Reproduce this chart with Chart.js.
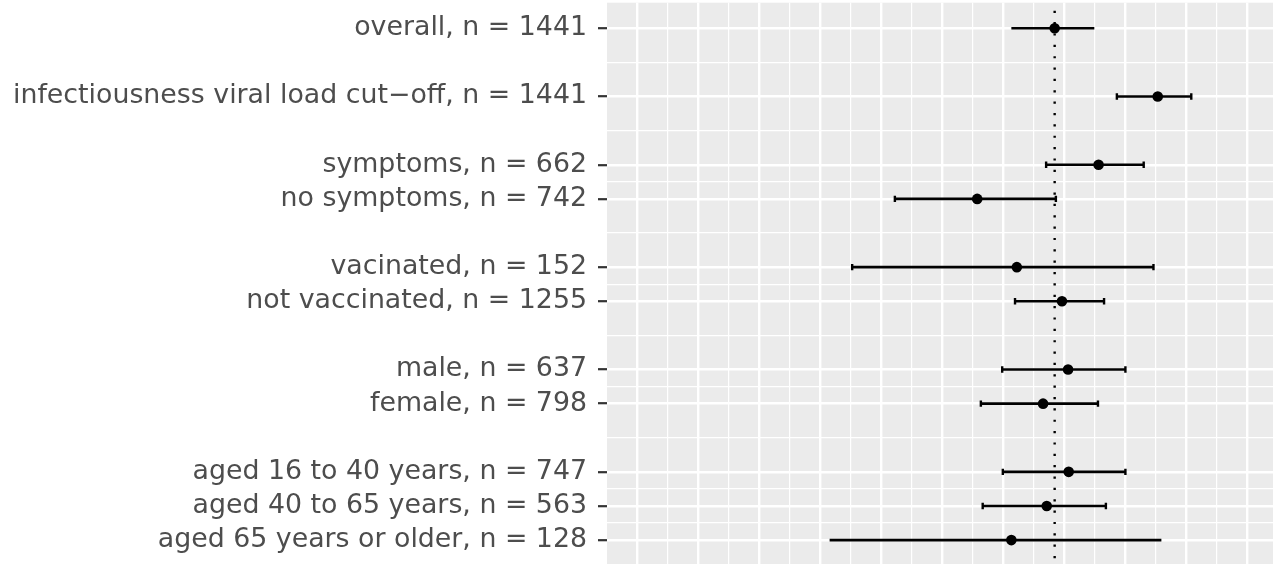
<!DOCTYPE html>
<html>
<head>
<meta charset="utf-8">
<script src="https://cdn.jsdelivr.net/npm/chart.js@4/dist/chart.umd.min.js"></script>
<style>
  html, body { margin: 0; padding: 0; background: #ffffff; }
  #wrap { width: 1273px; height: 564px; }
</style>
</head>
<body>
<div id="wrap"><canvas id="forest"></canvas></div>
<script>
// subgroup labels, top to bottom
var labels = [
    "overall, n = 1441",
    "infectiousness viral load cut\u2212off, n = 1441",
    "symptoms, n = 662",
    "no symptoms, n = 742",
    "vacinated, n = 152",
    "not vaccinated, n = 1255",
    "male, n = 637",
    "female, n = 798",
    "aged 16 to 40 years, n = 747",
    "aged 40 to 65 years, n = 563",
    "aged 65 years or older, n = 128"
];
// row position of each subgroup (gaps are the blank rows between groups)
var rows = [0, 2, 4, 5, 7, 8, 10, 11, 13, 14, 15];

// estimates and intervals (axis has no labels, units = major grid steps)
var estimate = [6.85, 8.54, 7.57, 5.58, 6.23, 6.97, 7.07, 6.66, 7.08, 6.72, 6.14];
var lower    = [6.14, 7.87, 6.71, 4.23, 3.53, 6.20, 5.99, 5.64, 6.00, 5.67, 3.16];
var upper    = [7.50, 9.09, 8.31, 6.87, 8.47, 7.66, 8.01, 7.56, 8.01, 7.69, 8.60];
var hasCaps  = [false, true, true, true, true, true, true, true, true, true, false];
var refValue = 6.85;

var xMajor = [0, 1, 2, 3, 4, 5, 6, 7, 8, 9, 10];

var yMin = -0.75, yMax = 15.70;
var xMin = -0.49, xMax = 10.43;

// minor lines sit halfway between neighbouring breaks
function withMinors(major) {
    var out = [];
    for (let i = 0; i < major.length; i++) {
        out.push(major[i]);
        if (i < major.length - 1) out.push((major[i] + major[i + 1]) / 2);
    }
    return out;
}

var datasets = [];

datasets.push({
    type: "line",
    data: [{ x: refValue, y: yMin }, { x: refValue, y: yMax }],
    borderColor: "#000000",
    borderWidth: 2.4,
    borderDash: [2.2, 9.16],
    borderDashOffset: 3.36,
    borderCapStyle: "butt",
    pointRadius: 0,
    order: 3,
});

for (let i = 0; i < rows.length; i++) {
    datasets.push({
        type: "line",
        data: [{ x: lower[i], y: rows[i] }, { x: upper[i], y: rows[i] }],
        borderColor: "#000000",
        borderWidth: 2.6,
        pointStyle: "line",
        pointRotation: 90,
        pointRadius: hasCaps[i] ? 3.2 : 0,
        pointBorderWidth: 2.4,
        pointBorderColor: "#000000",
        order: 2,
    });
}

datasets.push({
    type: "scatter",
    data: rows.map(function(r, i) { return { x: estimate[i], y: r }; }),
    backgroundColor: "#000000",
    borderWidth: 0,
    pointRadius: 5.3,
    order: 1,
});

var panelBackground = {
    id: "panelBackground",
    beforeDraw: function(chart) {
        var a = chart.chartArea;
        var c = chart.ctx;
        c.save();
        c.fillStyle = "#EBEBEB";
        c.fillRect(a.left, a.top, a.right - a.left, a.bottom - a.top);
        c.restore();
    }
};

function isMajorRow(v) {
    return rows.indexOf(v) !== -1;
}

const ctx = document.getElementById("forest").getContext("2d");
const myChart = new Chart(ctx, {
    data: { datasets: datasets },
    plugins: [panelBackground],
    options: {
        responsive: true,
        maintainAspectRatio: false,
        animation: false,
        layout: {
            autoPadding: false,
            padding: { top: 2.7, right: 0, bottom: 0, left: 0 },
        },
        plugins: {
            legend: { display: false },
            tooltip: { enabled: false },
        },
        scales: {
            x: {
                type: "linear",
                min: xMin,
                max: xMax,
                afterBuildTicks: function(scale) {
                    scale.ticks = withMinors(xMajor).map(function(v) { return { value: v }; });
                },
                afterFit: function(scale) {
                    scale.height = 0;
                    scale.paddingLeft = 0;
                    scale.paddingRight = 0;
                },
                ticks: { display: false, autoSkip: false },
                border: { display: false },
                grid: {
                    color: "#FFFFFF",
                    drawTicks: false,
                    lineWidth: function(c) {
                        return c.tick && c.tick.value % 1 === 0 ? 2.4 : 1.2;
                    },
                },
            },
            y: {
                type: "linear",
                reverse: true,
                min: yMin,
                max: yMax,
                afterBuildTicks: function(scale) {
                    scale.ticks = withMinors(rows).map(function(v) { return { value: v }; });
                },
                afterFit: function(scale) {
                    scale.width = 607;
                    scale.paddingTop = 0;
                    scale.paddingBottom = 0;
                },
                ticks: {
                    autoSkip: false,
                    padding: 11,
                    color: "#4D4D4D",
                    font: { family: "DejaVu Sans", size: 26.8 },
                    callback: function(value) {
                        var idx = rows.indexOf(value);
                        return idx === -1 ? "" : labels[idx];
                    },
                },
                border: { display: false },
                grid: {
                    color: "#FFFFFF",
                    tickLength: 9,
                    tickWidth: 2.2,
                    tickColor: function(c) {
                        return c.tick && isMajorRow(c.tick.value) ? "#333333" : "rgba(0,0,0,0)";
                    },
                    lineWidth: function(c) {
                        return c.tick && isMajorRow(c.tick.value) ? 2.4 : 1.2;
                    },
                },
            },
        },
    },
});
</script>
</body>
</html>
